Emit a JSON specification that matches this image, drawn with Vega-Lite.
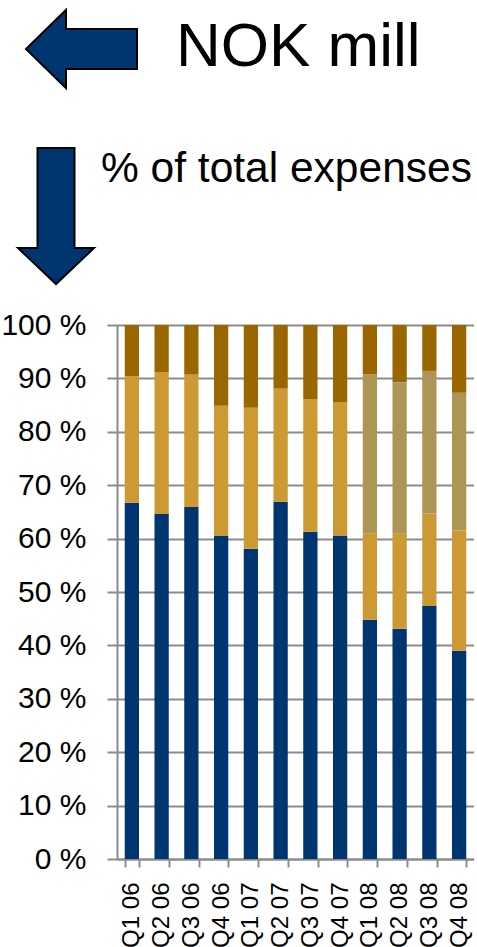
{
  "$schema": "https://vega.github.io/schema/vega-lite/v6.json",
  "padding": 0,
  "spacing": 10,
  "config": {
    "view": {"stroke": null},
    "font": "Liberation Sans",
    "axis": {"labelFont": "Liberation Sans", "labelColor": "#000000"}
  },
  "vconcat": [
    {
      "width": 357,
      "height": 300,
      "data": {"values": [{"a": 1}]},
      "layer": [
        {
          "mark": {"type": "point", "shape": "M-1,0 L-0.279,-0.703 L-0.279,-0.36 L1,-0.36 L1,0.36 L-0.279,0.36 L-0.279,0.703 Z", "size": 12321, "filled": true, "fill": "#003670", "stroke": "#000000", "strokeWidth": 2, "opacity": 1},
          "encoding": {
            "x": {"datum": 80.5, "type": "quantitative", "scale": {"domain": [116, 473]}, "axis": null},
            "y": {"datum": 49, "type": "quantitative", "scale": {"domain": [0, 300], "reverse": true}, "axis": null}
          }
        },
        {
          "mark": {"type": "point", "shape": "M-0.272,-1 L0.272,-1 L0.272,0.47 L0.559,0.47 L0,1 L-0.559,0.47 L-0.272,0.47 Z", "size": 18496, "filled": true, "fill": "#003670", "stroke": "#000000", "strokeWidth": 2, "opacity": 1},
          "encoding": {
            "x": {"datum": 55, "type": "quantitative", "scale": {"domain": [116, 473]}, "axis": null},
            "y": {"datum": 216, "type": "quantitative", "scale": {"domain": [0, 300], "reverse": true}, "axis": null}
          }
        },
        {
          "mark": {"type": "text", "align": "left", "baseline": "alphabetic", "fontSize": 62, "font": "Liberation Sans", "color": "#000000"},
          "encoding": {
            "x": {"datum": 175, "type": "quantitative", "scale": {"domain": [116, 473]}, "axis": null},
            "y": {"datum": 66, "type": "quantitative", "scale": {"domain": [0, 300], "reverse": true}, "axis": null},
            "text": {"value": "NOK mill"}
          }
        },
        {
          "mark": {"type": "text", "align": "left", "baseline": "alphabetic", "fontSize": 42.5, "font": "Liberation Sans", "color": "#000000"},
          "encoding": {
            "x": {"datum": 100, "type": "quantitative", "scale": {"domain": [116, 473]}, "axis": null},
            "y": {"datum": 182, "type": "quantitative", "scale": {"domain": [0, 300], "reverse": true}, "axis": null},
            "text": {"value": "% of total expenses"}
          }
        }
      ]
    },
    {
      "width": 357,
      "height": 534,
      "data": {
        "values": [
          {"q": "Q1 06", "s": "Series 1", "v": 66.7}, {"q": "Q1 06", "s": "Series 2", "v": 23.7}, {"q": "Q1 06", "s": "Series 4", "v": 9.6},
          {"q": "Q2 06", "s": "Series 1", "v": 64.6}, {"q": "Q2 06", "s": "Series 2", "v": 26.6}, {"q": "Q2 06", "s": "Series 4", "v": 8.8},
          {"q": "Q3 06", "s": "Series 1", "v": 65.9}, {"q": "Q3 06", "s": "Series 2", "v": 24.8}, {"q": "Q3 06", "s": "Series 4", "v": 9.3},
          {"q": "Q4 06", "s": "Series 1", "v": 60.5}, {"q": "Q4 06", "s": "Series 2", "v": 24.4}, {"q": "Q4 06", "s": "Series 4", "v": 15.1},
          {"q": "Q1 07", "s": "Series 1", "v": 58.1}, {"q": "Q1 07", "s": "Series 2", "v": 26.4}, {"q": "Q1 07", "s": "Series 4", "v": 15.5},
          {"q": "Q2 07", "s": "Series 1", "v": 66.9}, {"q": "Q2 07", "s": "Series 2", "v": 21.2}, {"q": "Q2 07", "s": "Series 4", "v": 11.9},
          {"q": "Q3 07", "s": "Series 1", "v": 61.3}, {"q": "Q3 07", "s": "Series 2", "v": 24.8}, {"q": "Q3 07", "s": "Series 4", "v": 13.9},
          {"q": "Q4 07", "s": "Series 1", "v": 60.6}, {"q": "Q4 07", "s": "Series 2", "v": 25.0}, {"q": "Q4 07", "s": "Series 4", "v": 14.4},
          {"q": "Q1 08", "s": "Series 1", "v": 44.8}, {"q": "Q1 08", "s": "Series 2", "v": 16.2}, {"q": "Q1 08", "s": "Series 3", "v": 29.8}, {"q": "Q1 08", "s": "Series 4", "v": 9.2},
          {"q": "Q2 08", "s": "Series 1", "v": 43.1}, {"q": "Q2 08", "s": "Series 2", "v": 17.8}, {"q": "Q2 08", "s": "Series 3", "v": 28.4}, {"q": "Q2 08", "s": "Series 4", "v": 10.7},
          {"q": "Q3 08", "s": "Series 1", "v": 47.4}, {"q": "Q3 08", "s": "Series 2", "v": 17.3}, {"q": "Q3 08", "s": "Series 3", "v": 26.7}, {"q": "Q3 08", "s": "Series 4", "v": 8.6},
          {"q": "Q4 08", "s": "Series 1", "v": 39.0}, {"q": "Q4 08", "s": "Series 2", "v": 22.5}, {"q": "Q4 08", "s": "Series 3", "v": 25.8}, {"q": "Q4 08", "s": "Series 4", "v": 12.7}
        ]
      },
      "mark": {"type": "bar"},
      "encoding": {
        "x": {
          "field": "q", "type": "nominal", "sort": null,
          "scale": {"paddingInner": 0.52, "paddingOuter": 0.26},
          "axis": {"title": null, "labelAngle": 270, "labelFontSize": 24, "labelPadding": 15, "tickBand": "extent", "tickSize": 8, "tickWidth": 2, "tickColor": "#8c8c8c", "domainColor": "#8c8c8c", "domainWidth": 2, "grid": false}
        },
        "y": {
          "field": "v", "type": "quantitative", "stack": "zero",
          "scale": {"domain": [0, 100], "nice": false},
          "axis": {"title": null, "values": [0, 10, 20, 30, 40, 50, 60, 70, 80, 90, 100], "labelExpr": "datum.value + ' %'", "labelFontSize": 30, "labelPadding": 21, "tickSize": 10, "tickWidth": 2, "tickColor": "#8c8c8c", "domainColor": "#8c8c8c", "domainWidth": 2, "grid": true, "gridColor": "#8c8c8c", "gridWidth": 2}
        },
        "color": {
          "field": "s", "type": "nominal",
          "scale": {"domain": ["Series 1", "Series 2", "Series 3", "Series 4"], "range": ["#003670", "#CC9933", "#AD9555", "#996600"]},
          "legend": null
        },
        "order": {"field": "s", "sort": "ascending"}
      }
    }
  ]
}
